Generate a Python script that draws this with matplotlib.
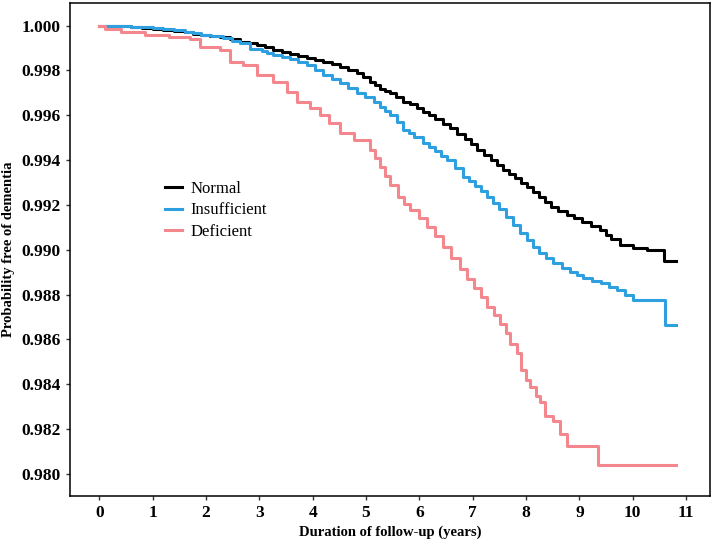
import matplotlib
matplotlib.use("Agg")
import matplotlib.pyplot as plt

# Kaplan-Meier style step curves
t_normal = [0, 0.2, 0.4, 0.6, 0.8, 1.0, 1.2, 1.4, 1.6, 1.75, 1.9, 2.08, 2.26, 2.45,
            2.64, 2.8, 2.96, 3.11, 3.26, 3.42, 3.58, 3.73, 3.89, 4.05, 4.2, 4.36,
            4.52, 4.67, 4.83, 4.95, 5.08, 5.17, 5.27, 5.36, 5.45, 5.57, 5.70, 5.83,
            5.95, 6.07, 6.18, 6.30, 6.44, 6.58, 6.71, 6.85, 6.96, 7.08, 7.21, 7.35,
            7.46, 7.57, 7.68, 7.8, 7.91, 8.02, 8.13, 8.25, 8.35, 8.46, 8.6, 8.77,
            8.9, 9.05, 9.22, 9.39, 9.5, 9.6, 9.77, 10.0, 10.27, 10.58, 10.82]
s_normal = [1.0, 0.99999, 0.99997, 0.99994, 0.9999, 0.99986, 0.99982, 0.99976,
            0.9997, 0.99964, 0.99958, 0.99955, 0.99951, 0.9994, 0.99929, 0.99921,
            0.99914, 0.99903, 0.99892, 0.99882, 0.99872, 0.99863, 0.99854, 0.99846,
            0.99839, 0.99828, 0.99817, 0.99802, 0.99787, 0.99769, 0.9975, 0.99734,
            0.99718, 0.99709, 0.997, 0.9968, 0.99661, 0.9965, 0.99633, 0.99616,
            0.996, 0.99582, 0.99562, 0.99542, 0.99518, 0.99495, 0.9947, 0.99445,
            0.99422, 0.994, 0.99378, 0.99356, 0.99338, 0.9932, 0.993, 0.99281,
            0.99258, 0.99235, 0.99213, 0.99191, 0.99172, 0.99154, 0.9914, 0.99125,
            0.99106, 0.99087, 0.99068, 0.9905, 0.9902, 0.9901, 0.98998, 0.98949,
            0.98949]

t_insuff = [0, 0.2, 0.4, 0.6, 0.8, 1.0, 1.2, 1.4, 1.6, 1.75, 1.9, 2.1, 2.32, 2.48,
            2.64, 2.83, 3.05, 3.15, 3.26, 3.42, 3.58, 3.73, 3.89, 4.05, 4.2, 4.36,
            4.52, 4.67, 4.83, 4.98, 5.14, 5.27, 5.36, 5.45, 5.58, 5.70, 5.80, 5.90,
            6.07, 6.18, 6.30, 6.41, 6.52, 6.67, 6.82, 6.93, 7.05, 7.16, 7.27, 7.38,
            7.5, 7.62, 7.75, 7.88, 8.02, 8.13, 8.25, 8.38, 8.51, 8.67, 8.83, 8.95,
            9.07, 9.23, 9.4, 9.55, 9.71, 9.85, 10.0, 10.6, 10.82]
s_insuff = [1.0, 0.99999, 0.99998, 0.99995, 0.99992, 0.99989, 0.99985, 0.99979,
            0.99972, 0.99966, 0.9996, 0.99952, 0.99944, 0.99933, 0.99921, 0.99895,
            0.99885, 0.99877, 0.99869, 0.9986, 0.9985, 0.99838, 0.99825, 0.998,
            0.9978, 0.99762, 0.99743, 0.9972, 0.99698, 0.9968, 0.99661, 0.99639,
            0.9962, 0.99601, 0.99568, 0.99534, 0.9952, 0.99505, 0.99475, 0.99458,
            0.9944, 0.9942, 0.994, 0.99363, 0.99326, 0.99305, 0.99285, 0.99261,
            0.99237, 0.99208, 0.9918, 0.99145, 0.9911, 0.99077, 0.99043, 0.99014,
            0.98985, 0.98962, 0.98939, 0.9892, 0.98902, 0.98888, 0.98873, 0.98862,
            0.9885, 0.98835, 0.9882, 0.98798, 0.98775, 0.98663, 0.98663]

t_defic = [0, 0.1, 0.4, 0.85, 1.3, 1.7, 1.89, 2.26, 2.45, 2.70, 2.96, 3.26, 3.52,
           3.71, 3.95, 4.14, 4.3, 4.52, 4.77, 5.08, 5.17, 5.27, 5.36, 5.45, 5.6,
           5.72, 5.83, 6.0, 6.15, 6.3, 6.45, 6.6, 6.76, 6.9, 7.02, 7.15, 7.27, 7.4,
           7.52, 7.62, 7.70, 7.83, 7.9, 8.0, 8.08, 8.18, 8.27, 8.36, 8.51, 8.64,
           8.77, 9.35, 10.82]
s_defic = [1.0, 0.99987, 0.99971, 0.99958, 0.9995, 0.9994, 0.99906, 0.99892, 0.99839,
           0.99825, 0.9978, 0.9975, 0.99705, 0.99661, 0.99631, 0.99601, 0.99565,
           0.9952, 0.9949, 0.99445, 0.99410, 0.99371, 0.99330, 0.99290, 0.99237,
           0.99205, 0.99177, 0.99140, 0.99103, 0.99060, 0.99013, 0.98965, 0.98915,
           0.98870, 0.98830, 0.98790, 0.98746, 0.98710, 0.98671, 0.98630, 0.98582,
           0.98538, 0.98462, 0.98420, 0.98387, 0.98350, 0.98319, 0.9826, 0.98236,
           0.9818, 0.98127, 0.9804, 0.9804]

groups = ["Normal", "Insufficient", "Deficient"]
colors = ["#000000", "#2E9FDF", "#F4878D"]

plt.rcParams['font.family'] = ['Liberation Serif', 'DejaVu Serif']
plt.rcParams['font.weight'] = 'bold'

fig = plt.figure(figsize=(7.18, 5.40), dpi=100)
ax = fig.add_axes([0.0975, 0.0815, 0.8915, 0.913])

series = [(t_normal, s_normal), (t_insuff, s_insuff), (t_defic, s_defic)]
for (t, s), name, c in zip(series, groups, colors):
    ax.step(t, s, where='post', color=c, lw=2.2, label=name)

ax.set_xlim(-0.55, 11.45)
ax.set_ylim(0.97902, 1.00101)
ax.set_xticks(range(0, 12))
ax.set_yticks([0.980 + 0.002 * i for i in range(11)])
ax.set_yticklabels(["%.3f" % (0.980 + 0.002 * i) for i in range(11)])
ax.tick_params(length=3, width=1, labelsize=12.5, color='#333333')
for lab in ax.get_xticklabels() + ax.get_yticklabels():
    lab.set_fontweight('bold')
for sp in ax.spines.values():
    sp.set_linewidth(1.1)

ax.set_xlabel("Duration of follow-up (years)", fontsize=10.5, fontweight='bold', labelpad=3)
ax.set_ylabel("Probability free of dementia", fontsize=10.5, fontweight='bold', labelpad=5)

leg = ax.legend(loc='upper left', bbox_to_anchor=(0.125, 0.67), frameon=False,
                prop={'size': 12, 'weight': 'normal'}, handlelength=1.0,
                handletextpad=0.55, labelspacing=0.35)

fig.savefig("out.png", dpi=100)
